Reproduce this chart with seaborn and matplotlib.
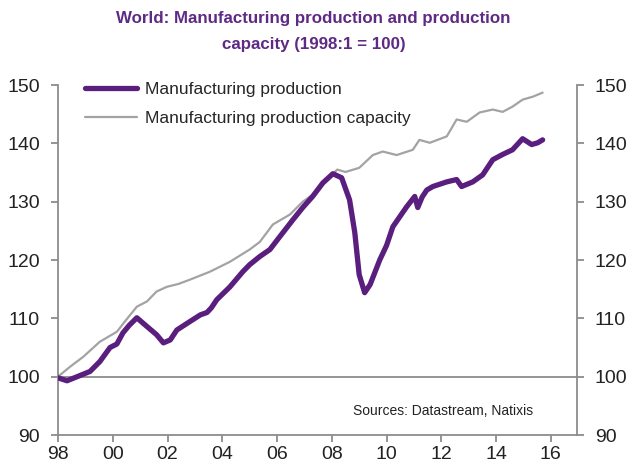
import pandas as pd
import matplotlib.pyplot as plt
import seaborn as sns

# values (year as decimal, index 1998:1 = 100)
prod_years = [1998.0, 1998.33, 1998.7, 1999.17, 1999.53, 1999.9, 2000.15, 2000.37, 2000.6, 2000.88,
              2001.25, 2001.6, 2001.85, 2002.1, 2002.34, 2002.8, 2003.2, 2003.44, 2003.6, 2003.8,
              2004.28, 2004.75, 2005.0, 2005.37, 2005.74, 2006.1, 2006.58, 2006.94, 2007.3, 2007.67,
              2008.04, 2008.36, 2008.65, 2008.84, 2009.0, 2009.2, 2009.4, 2009.75, 2010.0, 2010.23,
              2010.73, 2011.03, 2011.14, 2011.3, 2011.47, 2011.69, 2012.2, 2012.56, 2012.74, 2013.15,
              2013.51, 2013.88, 2014.24, 2014.6, 2014.97, 2015.3, 2015.52, 2015.7]
prod_values = [99.8, 99.3, 100.0, 100.9, 102.6, 105.0, 105.6, 107.5, 108.8, 110.1,
               108.6, 107.2, 105.8, 106.3, 108.0, 109.4, 110.6, 111.0, 111.8, 113.2,
               115.4, 118.0, 119.2, 120.6, 121.8, 124.0, 126.9, 129.0, 130.9, 133.2,
               134.8, 134.1, 130.3, 124.7, 117.5, 114.4, 115.8, 120.0, 122.5, 125.7,
               129.1, 130.9, 129.0, 130.8, 132.0, 132.6, 133.4, 133.8, 132.6, 133.4,
               134.6, 137.2, 138.1, 138.9, 140.8, 139.8, 140.1, 140.6]

cap_years = [1998.0, 1998.44, 1998.92, 1999.53, 2000.15, 2000.5, 2000.88, 2001.25, 2001.6, 2001.97,
             2002.4, 2002.8, 2003.55, 2004.28, 2005.0, 2005.37, 2005.85, 2006.47, 2006.94, 2007.45,
             2007.93, 2008.2, 2008.5, 2009.0, 2009.5, 2009.86, 2010.37, 2010.96, 2011.2, 2011.58,
             2012.2, 2012.56, 2012.93, 2013.4, 2013.88, 2014.24, 2014.6, 2014.97, 2015.34, 2015.7]
cap_values = [100.0, 101.7, 103.4, 106.0, 107.7, 109.8, 112.0, 112.9, 114.6, 115.4,
              115.9, 116.6, 118.0, 119.7, 121.8, 123.1, 126.1, 127.8, 130.0, 131.7,
              134.3, 135.5, 135.1, 135.8, 138.0, 138.6, 138.0, 138.9, 140.6, 140.1,
              141.2, 144.1, 143.7, 145.3, 145.8, 145.4, 146.3, 147.5, 148.0, 148.7]

tick_years = [1998, 2000, 2002, 2004, 2006, 2008, 2010, 2012, 2014, 2016]
tick_labels = ['98', '00', '02', '04', '06', '08', '10', '12', '14', '16']
y_ticks = [90, 100, 110, 120, 130, 140, 150]

purple = '#5a1e7e'
grey = '#a3a3a3'
axis_grey = '#8c8c8c'

sns.set_style('white')
plt.rcParams['font.family'] = ['Liberation Sans', 'DejaVu Sans']

prod = pd.DataFrame({'year': prod_years, 'value': prod_values})
cap = pd.DataFrame({'year': cap_years, 'value': cap_values})

fig = plt.figure(figsize=(6.27, 4.66), dpi=100)
ax = fig.add_axes([0.0925, 0.0665, 0.8275, 0.751])

ax.axhline(100, color=axis_grey, lw=1.3, zorder=1)
sns.lineplot(data=cap, x='year', y='value', ax=ax, color=grey, lw=1.6,
             label='Manufacturing production capacity', zorder=2)
sns.lineplot(data=prod, x='year', y='value', ax=ax, color=purple, lw=3.8,
             label='Manufacturing production', zorder=3)

ax.set_xlim(1998, 2016.95)
ax.set_ylim(90, 150)
ax.set_xticks(tick_years)
ax.set_xticklabels(tick_labels)
ax.set_yticks(y_ticks)
ax.set_xlabel('')
ax.set_ylabel('')

ax.spines['top'].set_visible(False)
for side in ['left', 'right', 'bottom']:
    ax.spines[side].set_color(axis_grey)
    ax.spines[side].set_linewidth(1.3)
ax.tick_params(axis='both', which='both', direction='out', length=5, width=1.3,
               color=axis_grey, labelsize=14, labelcolor='#222222')
ax.tick_params(axis='y', left=True, right=True, labelleft=True, labelright=True, pad=8)
ax.tick_params(axis='x', bottom=True, pad=3)

handles, labels = ax.get_legend_handles_labels()
ax.legend(handles[::-1], labels[::-1], loc='upper left', bbox_to_anchor=(0.052, 1.008),
          frameon=False, fontsize=12.5, handlelength=3.0, handletextpad=0.45,
          labelspacing=0.8, borderaxespad=0, borderpad=0)

ax.text(0.915, 0.07, 'Sources: Datastream, Natixis', transform=ax.transAxes,
        ha='right', va='center', fontsize=10, color='#222222')

title_color = '#5e2a84'
fig.text(0.5, 1 - 18 / 466, 'World: Manufacturing production and production',
         ha='center', va='center', fontsize=12.2, fontweight='bold', color=title_color)
fig.text(0.5, 1 - 45 / 466, 'capacity (1998:1 = 100)',
         ha='center', va='center', fontsize=12.2, fontweight='bold', color=title_color)

fig.savefig('out.png', dpi=100)
